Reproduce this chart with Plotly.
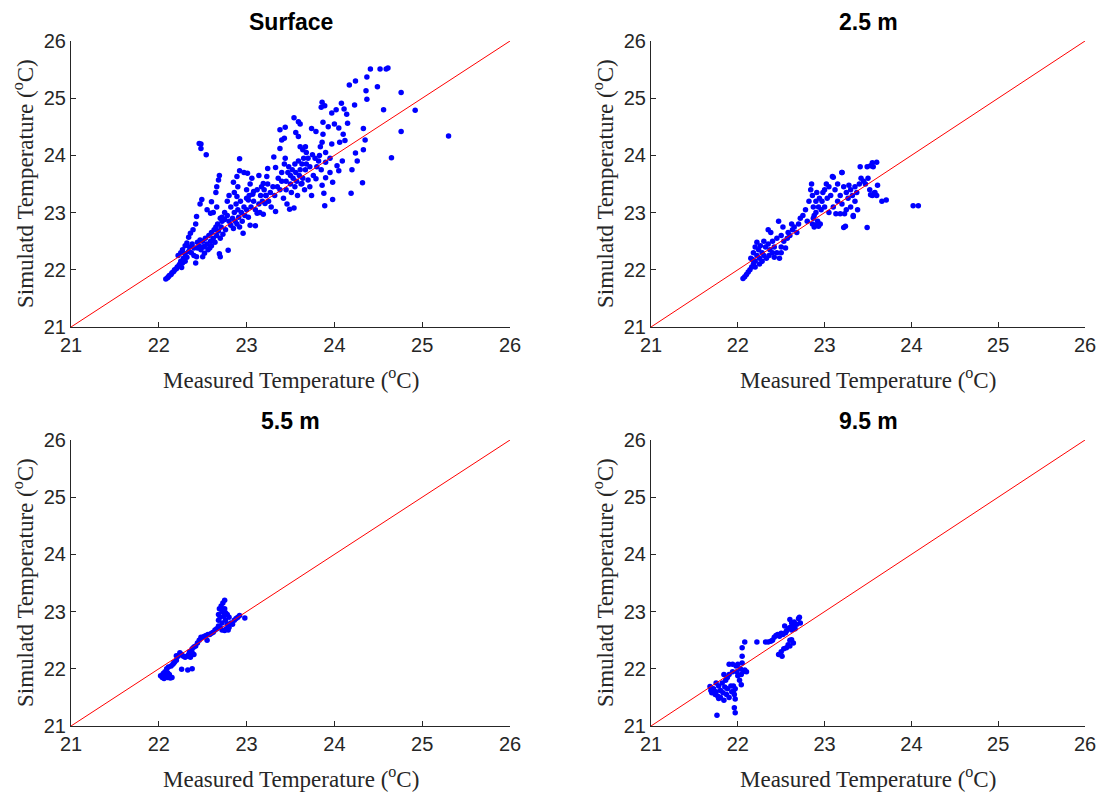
import plotly.graph_objects as go

# ---------------- data (measured, simulated) ----------------
surface_pts = [
    (22.08,21.84),(22.10,21.86),(22.11,21.88),(22.12,21.90),(22.14,21.92),(22.15,21.95),(22.17,21.97),
    (22.18,22.00),(22.20,22.02),(22.21,22.05),(22.23,22.08),(22.24,22.10),(22.26,22.04),(22.25,22.15),(22.27,22.12),
    (22.22,22.25),(22.25,22.30),(22.27,22.35),(22.30,22.42),(22.32,22.47),(22.34,22.57),(22.36,22.64),(22.39,22.70),
    (22.42,22.80),(22.43,22.93),(22.47,23.15),(22.49,23.23),(22.55,23.05),(22.59,22.99),(22.60,23.19),(22.65,23.35),
    (22.66,23.10),(22.66,23.45),(22.68,23.57),(22.69,23.65),(22.62,23.00),(22.70,22.90),(22.72,22.92),
    (22.46,24.21),(22.48,24.20),(22.48,24.12),(22.54,24.01),
    (22.28,22.20),(22.30,22.28),(22.30,22.15),(22.32,22.22),(22.34,22.32),(22.35,22.40),(22.37,22.30),(22.38,22.45),
    (22.40,22.38),(22.40,22.25),(22.42,22.12),(22.43,22.23),(22.44,22.48),(22.44,22.38),(22.46,22.42),(22.47,22.52),
    (22.48,22.35),(22.50,22.23),(22.50,22.50),(22.51,22.40),(22.52,22.29),(22.52,22.41),(22.53,22.55),(22.55,22.45),
    (22.56,22.35),(22.57,22.60),(22.58,22.38),(22.59,22.50),(22.60,22.65),(22.60,22.42),(22.62,22.55),(22.63,22.70),
    (22.64,22.48),(22.65,22.75),(22.66,22.60),(22.67,22.80),(22.68,22.68),(22.69,22.28),(22.70,22.23),(22.70,22.55),
    (22.71,22.75),(22.72,22.85),(22.73,22.62),(22.75,22.88),(22.76,22.70),(22.78,22.95),(22.79,22.34),(22.80,22.85),
    (22.82,22.78),(22.84,22.90),(22.85,22.72),(22.86,23.00),(22.87,22.85),(22.88,23.15),(22.89,22.80),(22.90,23.05),
    (22.91,22.92),(22.92,22.75),(22.93,23.20),(22.94,23.00),(22.95,22.85),(22.96,22.64),(22.97,23.10),(22.98,22.95),
    (23.00,23.25),(23.00,23.05),(23.02,22.92),(23.03,23.30),(23.04,22.78),(23.05,23.10),(23.07,23.32),(23.08,23.20),
    (23.10,22.77),(23.10,23.05),(23.12,22.99),(23.12,23.40),(23.14,23.15),(23.15,23.00),(23.16,23.30),(23.18,23.20),
    (23.19,22.97),(23.20,23.40),(23.21,23.16),(23.22,23.30),(23.24,23.50),(23.25,23.20),(23.27,23.35),(23.28,23.10),
    (23.30,23.45),
    (22.85,23.53),(22.86,23.35),(22.89,23.28),(22.89,23.63),(22.92,23.73),(22.92,23.94),(22.97,23.70),(23.00,23.40),
    (23.01,23.69),(23.02,23.22),(23.04,23.50),(22.80,23.30),(22.82,23.10),(22.78,23.20),(22.75,23.00),(22.90,23.45),
    (23.06,23.60),(23.08,23.37),
    (23.14,23.65),(23.17,23.45),(23.19,23.51),(23.22,23.30),(23.23,23.63),(23.24,23.77),(23.31,23.97),(23.33,23.79),
    (23.33,23.02),(23.38,24.45),(23.38,24.12),(23.40,24.27),(23.43,24.30),(23.44,24.49),(23.44,23.95),
    (23.32,23.30),(23.35,23.45),(23.36,23.60),(23.38,23.40),(23.40,23.70),(23.40,23.55),(23.42,23.25),(23.43,23.85),
    (23.45,23.55),(23.45,23.40),(23.46,23.15),(23.47,23.70),(23.48,23.80),(23.49,23.06),(23.50,23.65),(23.50,23.50),
    (23.51,23.35),(23.52,23.75),(23.53,23.60),(23.54,23.08),(23.55,23.85),(23.55,23.45),(23.56,23.70),(23.57,23.55),
    (23.58,23.30),(23.59,23.90),(23.60,23.65),(23.61,23.75),(23.62,23.50),(23.63,23.85),(23.63,23.51),(23.64,23.60),
    (23.65,23.95),(23.66,23.40),(23.67,23.75),(23.68,23.85),(23.70,23.57),(23.70,23.95),(23.72,23.45),(23.72,23.80),
    (23.74,23.30),(23.75,24.01),(23.76,23.65),(23.78,23.95),(23.79,23.59),(23.80,23.80),
    (23.54,24.66),(23.56,24.40),(23.59,24.33),(23.59,24.59),(23.61,24.55),(23.61,24.15),(23.67,24.15),(23.68,24.05),
    (23.64,24.10),(23.74,24.47),(23.79,24.42),(23.83,24.00),(23.84,24.15),(23.85,24.84),(23.86,24.93),(23.86,24.23),
    (23.86,23.48),(23.87,24.58),(23.87,24.37),(23.88,23.34),(23.89,24.87),(23.89,23.12),(23.90,23.61),(23.90,23.88),
    (23.93,24.50),(23.95,23.70),(23.97,24.74),(23.97,24.20),(23.98,23.53),(23.98,23.23),(24.00,24.55),(24.02,24.80),
    (24.03,23.82),(24.05,24.48),(24.05,23.73),(24.06,24.23),(24.08,24.91),(24.09,23.90),(24.10,24.37),(24.11,24.81),
    (24.12,24.26),(24.14,24.72),(24.15,24.56),(24.17,25.23),(24.19,23.34),(24.20,23.75),(24.23,24.88),(24.24,25.30),
    (24.24,24.04),(24.26,23.90),(24.32,23.52),(24.33,24.47),(24.33,24.10),(24.35,24.27),(24.36,25.13),(24.37,24.98),
    (24.37,25.37),(24.41,25.51),(24.49,25.20),(24.52,25.51),(24.56,24.80),(24.59,25.51),(24.61,25.53),(24.65,23.96),
    (24.76,25.10),(24.76,24.42),(24.92,24.79),(25.30,24.34),
    (23.82,23.90),(23.85,23.75),(23.90,24.05),(23.95,23.95),
]

m25_pts = [
    (22.06,21.85),(22.08,21.88),(22.10,21.92),(22.12,21.96),(22.14,22.00),(22.16,22.05),(22.18,22.10),
    (22.15,22.20),(22.18,22.30),(22.20,22.40),(22.20,22.15),(22.22,22.25),(22.22,22.48),(22.24,22.35),(22.25,22.20),
    (22.26,22.42),(22.28,22.30),(22.28,22.15),(22.30,22.50),(22.30,22.25),(22.32,22.40),(22.33,22.20),(22.35,22.70),
    (22.35,22.45),(22.37,22.35),(22.38,22.65),(22.40,22.50),(22.42,22.40),(22.42,22.22),(22.45,22.55),(22.47,22.85),
    (22.48,22.20),(22.50,22.60),(22.50,22.40),(22.52,22.75),(22.53,22.50),(22.55,22.38),(22.57,22.55),(22.58,22.65),
    (22.60,22.60),(22.62,22.80),(22.63,22.70),(22.65,22.75),(22.68,22.65),(22.70,22.80),(22.72,22.90),(22.75,22.95),
    (22.20,22.05),(22.25,22.10),(22.17,22.18),(22.36,22.25),(22.40,22.30),(22.45,22.30),(22.50,22.30),
    (22.78,23.05),(22.80,22.85),(22.82,23.20),(22.84,23.40),(22.85,23.50),(22.86,23.30),(22.86,22.80),(22.87,23.10),
    (22.88,22.95),(22.88,22.75),(22.90,23.20),(22.90,23.00),(22.91,23.35),(22.92,22.85),(22.93,23.10),(22.94,23.25),
    (22.95,22.80),(22.96,23.05),(22.97,23.20),(22.98,23.35),(23.00,23.40),(23.00,23.10),(23.02,23.50),(23.03,23.25),
    (23.05,23.00),(23.05,23.45),(23.07,23.30),(23.10,23.62),(23.10,23.10),(23.12,23.40),(23.13,22.98),(23.15,23.20),
    (23.15,23.50),(23.18,23.30),(23.18,22.98),(23.20,23.70),(23.20,23.15),(23.22,23.45),(23.23,22.98),(23.25,23.35),
    (23.25,23.05),(23.27,23.25),(23.28,23.48),(23.30,23.10),(23.30,23.40),(23.32,23.30),(23.33,22.95),(23.35,23.45),
    (23.35,23.20),(23.37,23.35),(23.38,23.05),(23.40,23.50),(23.42,23.60),(23.45,23.55),(23.47,23.50),(23.50,23.60),
    (23.52,23.40),(23.55,23.30),(23.58,23.35),(23.60,23.30),
    (24.08,23.12),(24.02,23.12),(23.49,22.74),(23.71,23.22),(23.66,23.20),(23.61,23.48),(23.57,23.34),(23.53,23.31),
    (23.60,23.88),(23.55,23.87),(23.56,23.80),(23.53,23.82),(23.49,23.80),(23.41,23.80),(23.20,23.70),(23.09,23.63),
    (23.24,22.76),(23.22,22.74),(23.33,22.93),(22.87,22.90),(22.89,22.78),(22.93,22.76),
]

m55_pts = [
    (22.02,21.88),(22.04,21.85),(22.05,21.92),(22.06,21.83),(22.07,21.95),(22.08,21.88),(22.09,22.00),(22.10,21.85),
    (22.10,21.93),(22.11,22.03),(22.12,21.90),(22.13,21.84),(22.14,22.05),(22.15,21.85),(22.16,22.08),(22.17,22.10),
    (22.18,22.12),(22.20,22.15),(22.22,22.22),(22.24,22.28),(22.26,22.25),(22.28,22.22),(22.30,22.20),(22.32,22.22),
    (22.34,22.25),(22.35,22.30),(22.36,22.20),(22.38,22.28),(22.38,22.35),(22.40,22.38),(22.40,22.25),(22.42,22.40),
    (22.44,22.45),(22.46,22.50),(22.48,22.55),(22.50,22.55),(22.52,22.57),(22.54,22.58),(22.55,22.50),(22.56,22.60),
    (22.58,22.60),(22.60,22.62),(22.62,22.64),(22.64,22.68),(22.66,22.70),(22.68,22.75),(22.68,22.85),(22.68,22.95),
    (22.69,23.05),(22.70,22.90),(22.70,22.72),(22.71,23.10),(22.72,23.00),(22.72,22.80),(22.73,23.15),(22.74,22.92),
    (22.75,23.20),(22.75,23.05),(22.76,22.98),(22.76,22.85),(22.77,22.70),(22.78,22.95),(22.78,22.78),(22.80,22.90),
    (22.80,22.72),(22.82,22.80),(22.84,22.78),(22.86,22.85),(22.88,22.88),(22.90,22.90),(22.92,22.93),(22.98,22.89),
    (22.72,22.68),(22.75,22.67),(22.79,22.68),(22.26,21.99),(22.33,21.98),(22.38,22.00),(22.24,22.25),(22.20,22.23),
]

m95_pts = [
    (21.68,21.69),(21.69,21.62),(21.70,21.58),(21.72,21.65),(21.74,21.55),(21.75,21.60),(21.76,21.19),(21.77,21.52),
    (21.78,21.70),(21.80,21.62),(21.80,21.50),(21.82,21.75),(21.83,21.58),(21.84,21.90),(21.84,21.45),(21.85,21.68),
    (21.86,21.80),(21.87,21.55),(21.88,21.85),(21.88,21.65),(21.90,21.90),(21.90,22.08),(21.90,21.50),(21.92,21.70),
    (21.93,21.60),(21.94,22.08),(21.94,21.95),(21.95,21.70),(21.96,21.32),(21.96,21.55),(21.97,21.23),(21.97,21.47),
    (21.97,21.65),(21.98,22.05),(21.99,21.95),(22.00,22.08),(22.00,21.88),(22.02,21.80),(22.03,22.00),(22.04,21.90),
    (22.04,21.72),(22.05,22.10),(22.05,22.22),(22.05,22.37),(22.06,21.95),(22.08,21.98),(22.08,22.47),(22.10,21.95),
    (22.22,22.47),(22.32,22.47),(22.35,22.47),(22.38,22.48),(22.40,22.50),(22.42,22.55),(22.44,22.58),(22.46,22.60),
    (22.48,22.57),(22.50,22.62),(22.52,22.60),(22.54,22.75),(22.55,22.63),(22.56,22.66),(22.58,22.70),(22.60,22.72),
    (22.60,22.86),(22.62,22.80),(22.62,22.68),(22.64,22.75),(22.65,22.82),(22.66,22.70),(22.68,22.78),(22.70,22.88),
    (22.71,22.90),(22.72,22.80),(22.47,22.25),(22.51,22.22),(22.50,22.30),(22.53,22.35),(22.56,22.37),(22.58,22.42),
    (22.60,22.40),(22.62,22.51),(22.60,22.50),(22.64,22.45),(21.75,21.75),(21.78,21.48),(21.95,21.60),
]

panel_titles = ["Surface", "2.5 m", "5.5 m", "9.5 m"]
panel_data = [surface_pts, m25_pts, m55_pts, m95_pts]
axis_range = [21, 26]
tick_vals = [21, 22, 23, 24, 25, 26]
one_to_one = [21, 26]

# ---------------- layout geometry ----------------
W, H = 1103, 794
# pixel boxes (left, right, top, bottom) of plot areas
boxes = [(71, 510, 41, 327), (651, 1085, 41, 327), (71, 510, 440, 726), (651, 1085, 440, 726)]

AX = "#262626"
fig = go.Figure()
annotations = []
layout = dict(
    width=W, height=H, margin=dict(l=0, r=0, t=0, b=0, autoexpand=False),
    paper_bgcolor="white", plot_bgcolor="white", showlegend=False,
)

for i, (pts, title, box) in enumerate(zip(panel_data, panel_titles, boxes)):
    n = "" if i == 0 else str(i + 1)
    xs = [p[0] for p in pts]
    ys = [p[1] for p in pts]
    fig.add_trace(go.Scatter(x=xs, y=ys, mode="markers", xaxis="x" + n, yaxis="y" + n,
                             marker=dict(color="#0000FF", size=5.5, line=dict(width=0)),
                             hoverinfo="skip"))
    fig.add_trace(go.Scatter(x=one_to_one, y=one_to_one, mode="lines", xaxis="x" + n, yaxis="y" + n,
                             line=dict(color="#FF0000", width=1), hoverinfo="skip"))
    l, r, t, b = box
    xd = [l / W, r / W]
    yd = [1 - b / H, 1 - t / H]
    common = dict(range=axis_range, tickvals=tick_vals, showgrid=False, zeroline=False,
                  showline=True, linecolor=AX, linewidth=1, ticks="inside", ticklen=5,
                  tickcolor=AX, tickwidth=1, mirror=False, fixedrange=True, automargin=False,
                  tickfont=dict(family="Liberation Sans, Arial", size=20, color=AX))
    layout["xaxis" + n] = dict(domain=xd, anchor="y" + n, **common)
    layout["yaxis" + n] = dict(domain=yd, anchor="x" + n, **common)

    cx = (l + r) / 2
    annotations.append(dict(text="<b>%s</b>" % title, x=cx / W, y=1 - (t - 19) / H, xref="paper", yref="paper",
                            showarrow=False, xanchor="center", yanchor="middle",
                            font=dict(family="Liberation Sans, Arial", size=23, color="black")))
    annotations.append(dict(text="Measured Temperature (<sup>o</sup>C)", x=cx / W, y=1 - (b + 51) / H,
                            xref="paper", yref="paper", showarrow=False, xanchor="center", yanchor="middle",
                            font=dict(family="Liberation Serif, Times New Roman", size=23, color=AX)))
    annotations.append(dict(text="Simulatd Temperature (<sup>o</sup>C)", x=(l - 48) / W, y=1 - ((t + b) / 2) / H,
                            xref="paper", yref="paper", showarrow=False, xanchor="center", yanchor="middle",
                            textangle=-90,
                            font=dict(family="Liberation Serif, Times New Roman", size=23, color=AX)))

layout["annotations"] = annotations
fig.update_layout(**layout)
fig.write_html("out.html", config={"displayModeBar": False},
               post_script="document.body.style.margin='0px';document.body.style.overflow='hidden';")
